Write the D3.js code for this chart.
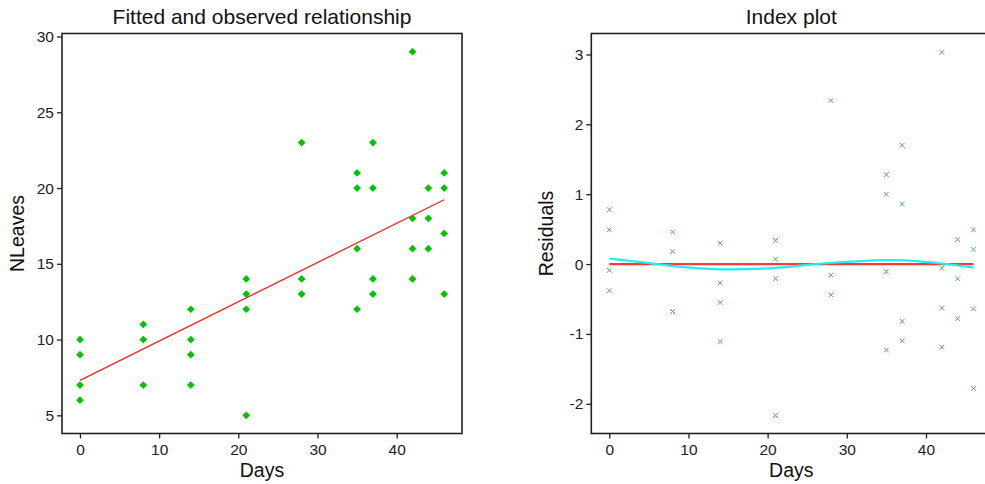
<!DOCTYPE html>
<html>
<head>
<meta charset="utf-8">
<script src="https://cdn.jsdelivr.net/npm/d3@7"></script>
<style>
  body { margin: 0; background: #fff; }
  svg { display: block; font-family: "Liberation Sans", Arial, sans-serif; }
  .axis text { fill: #222; font-size: 15.5px; }
  .axis path, .axis line { stroke: #222; stroke-width: 1.3; }
</style>
</head>
<body>
<svg id="chart"></svg>
<script>
// observed counts: days and number of leaves
const days   = [0,0,0,0, 8,8,8, 14,14,14,14, 21,21,21,21, 28,28,28, 35,35,35,35, 37,37,37,37, 42,42,42,42, 44,44,44, 46,46,46,46];
const leaves = [10,9,7,6, 11,10,7, 12,10,9,7, 14,13,12,5, 23,14,13, 21,20,16,12, 23,20,14,13, 29,18,16,14, 20,18,16, 21,20,17,13];
const residuals = [0.78,0.49,-0.09,-0.38, 0.46,0.18,-0.68, 0.30,-0.27,-0.55,-1.11, 0.34,0.07,-0.21,-2.17,
  2.34,-0.16,-0.44, 1.28,1.00,-0.11,-1.23, 1.70,0.86,-0.82,-1.10, 3.03,-0.06,-0.63,-1.19, 0.35,-0.21,-0.78,
  0.49,0.21,-0.64,-1.78];

// fitted line
const fitDays = [0, 46];
const fitLeaves = [7.31, 19.23];

// smoother through residuals
const smoothDays = [0, 4, 8, 11, 14, 17, 21, 25, 28, 32, 35, 37, 40, 42, 44, 46];
const smoothRes  = [0.08, 0.03, -0.03, -0.06, -0.08, -0.075, -0.06, -0.01, 0.02, 0.045, 0.06, 0.055, 0.03, 0.01, -0.02, -0.05];

const xTicks = [0, 10, 20, 30, 40];
const yTicksLeft = [5, 10, 15, 20, 25, 30];
const yTicksRight = [-2, -1, 0, 1, 2, 3];

const width = 985, height = 484;
const svg = d3.select("#chart").attr("width", width).attr("height", height);

const panels = [
  { left: 62, title: "Fitted and observed relationship", ylab: "NLeaves", ydom: [3.8, 30.2], yticks: yTicksLeft, ylabX: 17 },
  { left: 591.3, title: "Index plot", ylab: "Residuals", ydom: [-2.425, 3.3], yticks: yTicksRight, ylabX: 546 }
];
const plotTop = 33.5, innerH = 400, innerW = 400;

panels.forEach((p, i) => {
  const g = svg.append("g").attr("transform", `translate(${p.left},${plotTop})`);
  const x = d3.scaleLinear().domain([-2.27, 48.25]).range([0, innerW]);
  const y = d3.scaleLinear().domain(p.ydom).range([innerH, 0]);

  g.append("g").attr("class", "axis")
    .attr("transform", `translate(0,${innerH})`)
    .call(d3.axisBottom(x).tickValues(xTicks).tickSize(5).tickPadding(5).tickSizeOuter(0))
    .select(".domain").remove();
  g.append("g").attr("class", "axis")
    .call(d3.axisLeft(y).tickValues(p.yticks).tickSize(5).tickPadding(3).tickSizeOuter(0).tickFormat(d => String(d)))
    .select(".domain").remove();

  g.append("rect").attr("width", innerW).attr("height", innerH)
    .attr("fill", "none").attr("stroke", "#222").attr("stroke-width", 1.6);

  svg.append("text")
    .attr("x", p.left + innerW / 2).attr("y", 24)
    .attr("text-anchor", "middle").attr("font-size", 21).attr("fill", "#111")
    .text(p.title);
  svg.append("text")
    .attr("x", p.left + innerW / 2).attr("y", 477)
    .attr("text-anchor", "middle").attr("font-size", 19.5).attr("fill", "#111")
    .text("Days");
  svg.append("text")
    .attr("transform", `translate(${p.ylabX + 7},${plotTop + innerH / 2}) rotate(-90)`)
    .attr("text-anchor", "middle").attr("font-size", 19.5).attr("fill", "#111")
    .text(p.ylab);

  if (i === 0) {
    const line = d3.line().x(d => x(d[0])).y(d => y(d[1]));
    g.append("path")
      .datum(d3.zip(fitDays, fitLeaves))
      .attr("d", line).attr("fill", "none").attr("stroke", "#ff2020").attr("stroke-width", 1.3);
    g.selectAll(".pt").data(d3.zip(days, leaves)).join("path")
      .attr("class", "pt")
      .attr("transform", d => `translate(${x(d[0])},${y(d[1])})`)
      .attr("d", d3.symbol(d3.symbolDiamond2, 38))
      .attr("fill", "#00c400");
  } else {
    const line = d3.line().x(d => x(d[0])).y(d => y(d[1]));
    g.append("path")
      .datum([[0, 0], [46, 0]])
      .attr("d", line).attr("fill", "none").attr("stroke", "#ff3838").attr("stroke-width", 2.2);
    g.append("path")
      .datum(d3.zip(smoothDays, smoothRes))
      .attr("d", line.curve(d3.curveBasis)).attr("fill", "none").attr("stroke", "#22eef0").attr("stroke-width", 2.2);
    g.selectAll(".pt").data(d3.zip(days, residuals)).join("path")
      .attr("class", "pt")
      .attr("transform", d => `translate(${x(d[0])},${y(d[1])})`)
      .attr("d", d3.symbol(d3.symbolX, 16))
      .attr("fill", "none").attr("stroke", "#4caf50").attr("stroke-width", 1);
  }
});
</script>
</body>
</html>
